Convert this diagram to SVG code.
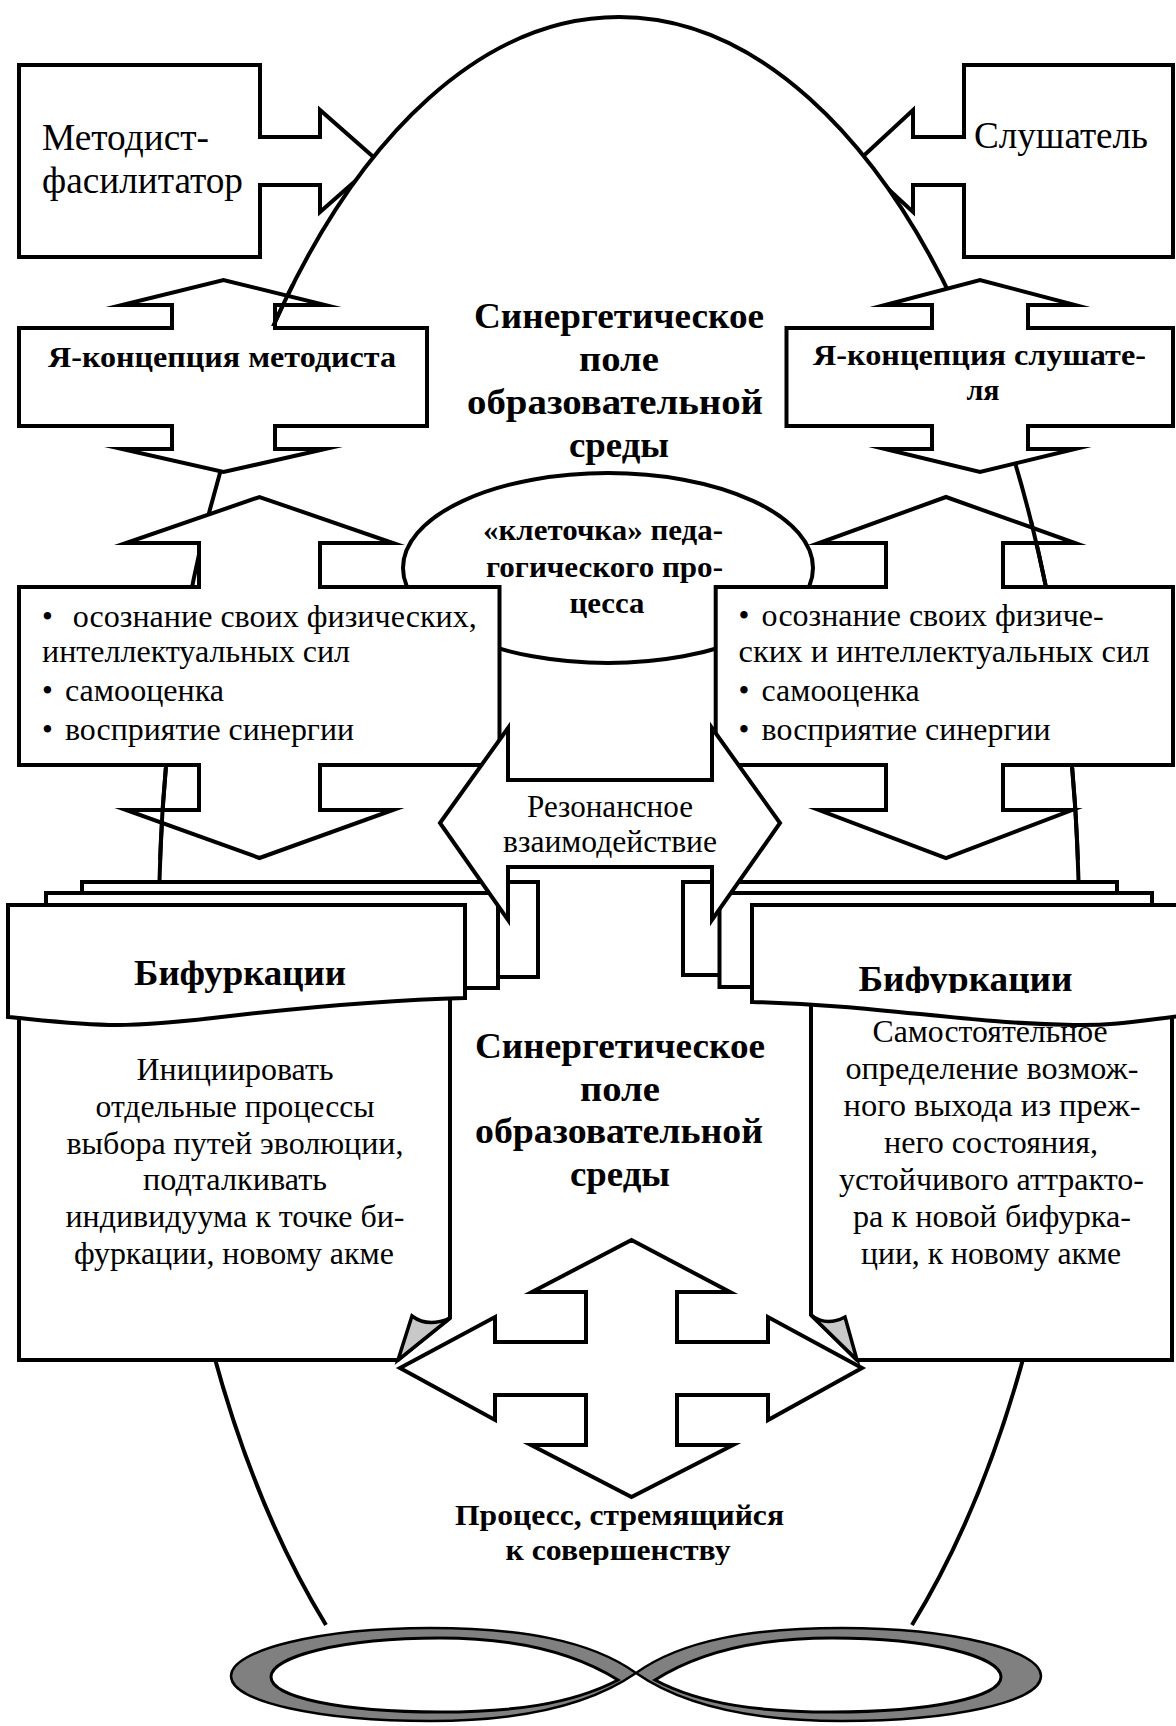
<svg xmlns="http://www.w3.org/2000/svg" width="1176" height="1726" viewBox="0 0 1176 1726">
<style>
.s{fill:#fff;stroke:#000;stroke-width:4;stroke-linejoin:miter;stroke-miterlimit:12}
.so{fill:none;stroke:#000;stroke-width:4}
.t{font-family:'Liberation Serif','Times New Roman',serif;fill:#000}
.b{font-weight:bold}
.r{font-size:31px}
.m{text-anchor:middle}
</style>
<defs>
<clipPath id="wingClip">
<rect x="260" y="284" width="70" height="42"/>
<rect x="1000" y="520" width="80" height="65"/>
<rect x="130" y="768" width="70" height="92"/>
<rect x="1040" y="768" width="60" height="92"/>
</clipPath>
<clipPath id="bifRClip"><rect x="840" y="940" width="260" height="53"/></clipPath>
<clipPath id="procClip"><rect x="430" y="1490" width="380" height="75"/></clipPath>
</defs>

<g id="metodist">
<path class="s" d="M19 65 H260 V137 H320 V110 L378 161 L320 212 V185 H260 V257 H19 Z"/>
<text class="t" font-size="37" x="42" y="150" textLength="167" lengthAdjust="spacingAndGlyphs">Методист-</text>
<text class="t" font-size="37" x="42" y="193" textLength="201" lengthAdjust="spacingAndGlyphs">фасилитатор</text>
</g>

<g id="listener">
<path class="s" d="M1173 65 H964 V137 H913 V110 L858 161 L913 212 V185 H964 V257 H1173 Z"/>
<text class="t" font-size="37" x="974" y="148" textLength="174" lengthAdjust="spacingAndGlyphs">Слушатель</text>
</g>

<g id="field">
<path class="s" d="M326 1625 A460 908 0 1 1 912 1625"/>
<g class="t b m" font-size="36">
<text x="619" y="328" textLength="290" lengthAdjust="spacingAndGlyphs">Синергетическое</text>
<text x="619" y="371" textLength="80" lengthAdjust="spacingAndGlyphs">поле</text>
<text x="615" y="414" textLength="296" lengthAdjust="spacingAndGlyphs">образовательной</text>
<text x="619" y="457" textLength="100" lengthAdjust="spacingAndGlyphs">среды</text>
<text x="620" y="1058" textLength="290" lengthAdjust="spacingAndGlyphs">Синергетическое</text>
<text x="620" y="1101" textLength="80" lengthAdjust="spacingAndGlyphs">поле</text>
<text x="619" y="1143" textLength="288" lengthAdjust="spacingAndGlyphs">образовательной</text>
<text x="620" y="1186" textLength="100" lengthAdjust="spacingAndGlyphs">среды</text>
</g>
</g>

<g id="cell">
<ellipse class="s" cx="608" cy="568" rx="205" ry="95"/>
<g class="t b" font-size="30">
<text x="483" y="540" textLength="240" lengthAdjust="spacingAndGlyphs">«клеточка» педа-</text>
<text x="486" y="577" textLength="237" lengthAdjust="spacingAndGlyphs">гогического про-</text>
<text class="m" x="607" y="613" textLength="75" lengthAdjust="spacingAndGlyphs">цесса</text>
</g>
</g>

<g id="ya-metodist">
<path class="s" d="M19 328 H172 V305 H122 L223.5 280 L325 305 H275 V328 H427 V426 H275 V449 H325 L223.5 472 L122 449 H172 V426 H19 Z"/>
<text class="t b" font-size="30" x="48" y="367" textLength="348" lengthAdjust="spacingAndGlyphs">Я-концепция методиста</text>
</g>

<g id="ya-listener">
<path class="s" d="M786.5 328 H932 V305 H885 L980 280 L1075 305 H1028 V328 H1173 V426 H1028 V449 H1075 L980 472 L885 449 H932 V426 H786.5 Z"/>
<text class="t b" font-size="30" x="813" y="365" textLength="333" lengthAdjust="spacingAndGlyphs">Я-концепция слушате-</text>
<text class="t b m" font-size="30" x="983" y="400">ля</text>
</g>

<g id="bullets-left">
<path class="s" d="M19 587 H199 V543 H126 L259.5 497 L393 543 H320 V587 H499.5 V765 H320 V810 H393 L259.5 858 L126 810 H199 V765 H19 Z"/>
<g class="t r">
<text x="42" y="627">•</text>
<text x="72.7" y="627" textLength="404" lengthAdjust="spacingAndGlyphs">осознание своих физических,</text>
<text x="42" y="662" textLength="308" lengthAdjust="spacingAndGlyphs">интеллектуальных сил</text>
<text x="42" y="701">•</text>
<text x="65" y="701" textLength="159" lengthAdjust="spacingAndGlyphs">самооценка</text>
<text x="42" y="740">•</text>
<text x="65" y="740" textLength="289" lengthAdjust="spacingAndGlyphs">восприятие синергии</text>
</g>
</g>

<g id="bullets-right">
<path class="s" d="M715.7 587 H886 V543 H819 L946 497 L1075 543 H1003 V587 H1173 V765 H1003 V810 H1072 L946 858 L819 810 H886 V765 H715.7 Z"/>
<g class="t r">
<text x="738.6" y="626">•</text>
<text x="761.6" y="626" textLength="342" lengthAdjust="spacingAndGlyphs">осознание своих физиче-</text>
<text x="738.6" y="662" textLength="411" lengthAdjust="spacingAndGlyphs">ских и  интеллектуальных сил</text>
<text x="738.6" y="701">•</text>
<text x="761.6" y="701" textLength="158" lengthAdjust="spacingAndGlyphs">самооценка</text>
<text x="738.6" y="740">•</text>
<text x="761.6" y="740" textLength="289" lengthAdjust="spacingAndGlyphs">восприятие синергии</text>
</g>
</g>

<g id="bifurcation-left">
<rect class="s" x="82" y="882" width="456" height="95"/>
<rect class="s" x="46" y="893" width="452" height="95"/>
<path class="s" d="M19 995 V1360 H398 L450 1318 V995"/>
<path d="M412 1316 Q428 1328 450 1318 L398 1360 Z" fill="#c8c8c8" stroke="#000" stroke-width="3.5" stroke-linejoin="miter"/>
<g class="t r m">
<text x="235" y="1080" textLength="197" lengthAdjust="spacingAndGlyphs">Инициировать</text>
<text x="235" y="1117" textLength="279" lengthAdjust="spacingAndGlyphs">отдельные процессы</text>
<text x="235" y="1154" textLength="337" lengthAdjust="spacingAndGlyphs">выбора путей эволюции,</text>
<text x="235" y="1190" textLength="184" lengthAdjust="spacingAndGlyphs">подталкивать</text>
<text x="235" y="1227" textLength="339" lengthAdjust="spacingAndGlyphs">индивидуума к точке би-</text>
<text x="234" y="1264" textLength="320" lengthAdjust="spacingAndGlyphs">фуркации, новому акме</text>
</g>
<path class="s" d="M8 905 H465 V998 C380 1000 300 1008 230 1016 C180 1022 140 1025 117 1025 C80 1025 40 1020 8 1017 Z"/>
<text class="t b m" font-size="35" x="240" y="985" textLength="212" lengthAdjust="spacingAndGlyphs">Бифуркации</text>
</g>

<g id="bifurcation-right">
<rect class="s" x="683" y="882" width="434" height="93"/>
<rect class="s" x="719.5" y="893" width="432.5" height="94"/>
<path class="s" d="M1172 995 V1360 H857 L811 1315 V995"/>
<path d="M811 1315 Q826 1327 845 1317 L857 1360 Z" fill="#c8c8c8" stroke="#000" stroke-width="3.5" stroke-linejoin="miter"/>
<g class="t r m">
<text x="990" y="1042" textLength="235" lengthAdjust="spacingAndGlyphs">Самостоятельное</text>
<text x="992" y="1079" textLength="293" lengthAdjust="spacingAndGlyphs">определение возмож-</text>
<text x="992" y="1116" textLength="297" lengthAdjust="spacingAndGlyphs">ного выхода из преж-</text>
<text x="991" y="1153" textLength="214" lengthAdjust="spacingAndGlyphs">него состояния,</text>
<text x="991.5" y="1190" textLength="305" lengthAdjust="spacingAndGlyphs">устойчивого аттракто-</text>
<text x="992" y="1227" textLength="278" lengthAdjust="spacingAndGlyphs">ра к новой бифурка-</text>
<text x="991" y="1264" textLength="260" lengthAdjust="spacingAndGlyphs">ции, к новому акме</text>
</g>
<path class="s" d="M752 905 H1190 V1015 C1150 1019 1120 1026 1073 1025 C960 1023 880 1005 752 1002 Z"/>
<text class="t b m" font-size="35" x="965.5" y="991" textLength="214" lengthAdjust="spacingAndGlyphs" clip-path="url(#bifRClip)">Бифуркации</text>
</g>

<g id="connectors">
<path class="s" stroke-width="6.5" d="M440 823 L508 728 V780 H712 V728 L780 823 L712 920 V867 H508 V920 Z"/>
<text class="t r m" x="610" y="817" textLength="166" lengthAdjust="spacingAndGlyphs">Резонансное</text>
<text class="t r m" x="610" y="852" textLength="214" lengthAdjust="spacingAndGlyphs">взаимодействие</text>
<path class="s" d="M631.5 1240 L730 1292 H677 V1342 H768 V1317 L862 1368 L768 1420 V1395 H677 V1445 H733 L631.5 1497 L531 1445 H586 V1395 H495 V1420 L400 1368 L495 1317 V1342 H586 V1292 H532 Z"/>
</g>

<g id="process">
<text class="t b m" font-size="29" x="619.5" y="1525" textLength="329" lengthAdjust="spacingAndGlyphs">Процесс, стремящийся</text>
<text class="t b m" font-size="29" x="618" y="1560" textLength="225" lengthAdjust="spacingAndGlyphs" clip-path="url(#procClip)">к совершенству</text>
</g>

<g id="infinity">
<path d="M636 1673 C590 1640 520 1628 430 1628 C320 1628 231 1650 231 1676 C231 1702 320 1721 430 1721 C520 1721 590 1705 636 1673 Z M636 1673 C682 1640 752 1628 842 1628 C952 1628 1041 1650 1041 1676 C1041 1702 952 1721 842 1721 C752 1721 682 1705 636 1673 Z" fill="#808080" stroke="#000" stroke-width="2.5"/>
<path d="M618 1680 C570 1650 510 1638 440 1638 C340 1638 271 1657 271 1677 C271 1697 340 1712 440 1712 C510 1712 570 1705 618 1680 Z M655 1680 C702 1650 762 1638 832 1638 C932 1638 1001 1657 1001 1677 C1001 1697 932 1712 832 1712 C762 1712 702 1705 655 1680 Z" fill="#fff" stroke="#000" stroke-width="3"/>
</g>

<g id="field-outline-front" clip-path="url(#wingClip)">
<path class="so" d="M326 1625 A460 908 0 1 1 912 1625"/>
</g>
</svg>
